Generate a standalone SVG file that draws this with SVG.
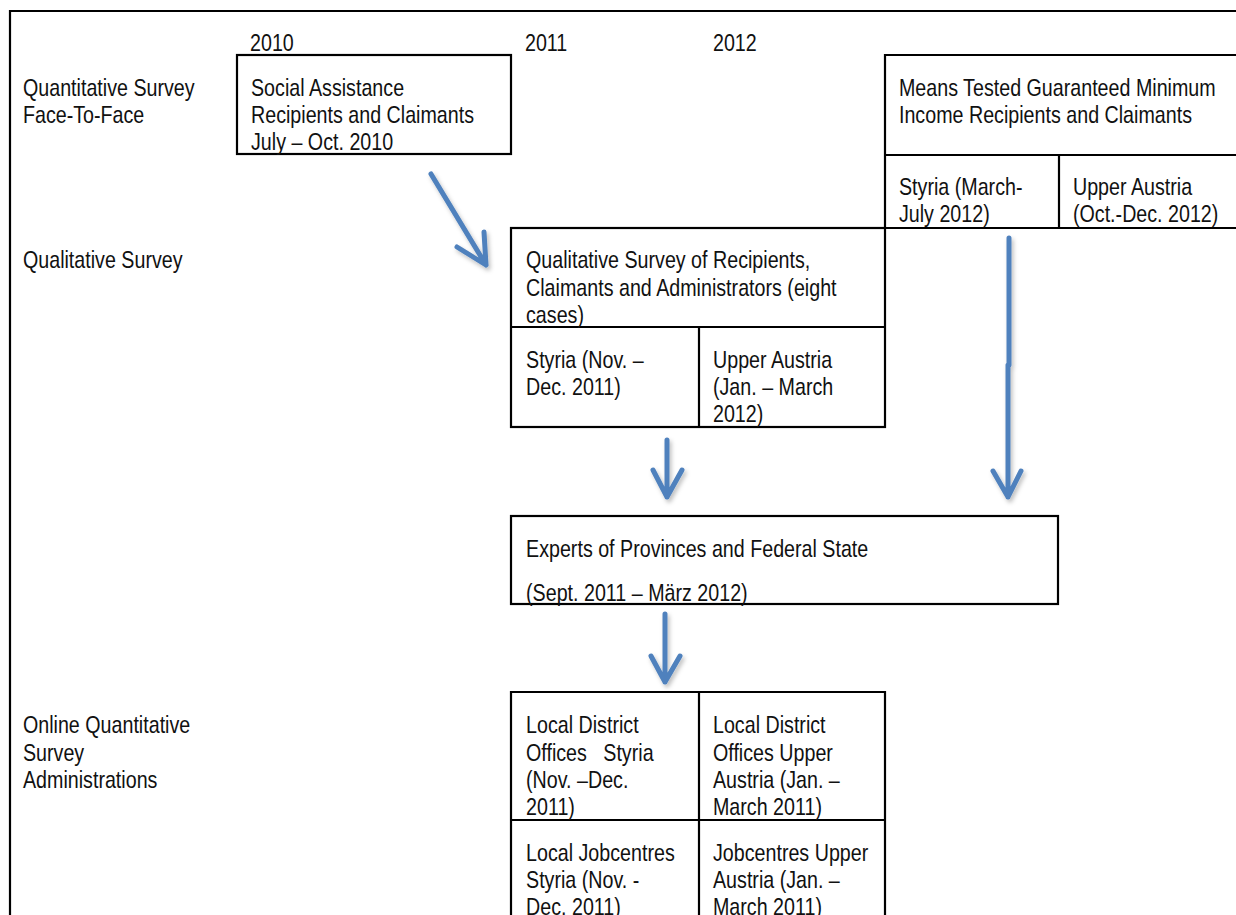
<svg xmlns="http://www.w3.org/2000/svg" width="1236" height="915" viewBox="0 0 1236 915">
<defs>
<style>
.t{font-family:"Liberation Sans",Arial,sans-serif;font-size:24px;fill:#111;white-space:pre}
.b{fill:none;stroke:#000;stroke-width:2.2}
.a{fill:none;stroke:#4F81BD;stroke-width:5;stroke-linecap:round;stroke-linejoin:round}
</style>
<filter id="sh" x="-50%" y="-20%" width="200%" height="140%">
<feDropShadow dx="2" dy="3" stdDeviation="2" flood-color="#000" flood-opacity="0.25"/>
</filter>
</defs>
<rect width="1236" height="915" fill="#fff"/>
<g id="frame">
<path class="b" d="M10,915 V11 H1236"/>
</g>
<g id="years">
<g transform="scale(0.82 1)">
<text class="t" x="304.9" y="51">2010</text>
<text class="t" x="640.2" y="51">2011</text>
<text class="t" x="869.5" y="51">2012</text>
</g>
</g>
<g id="row-labels">
<g transform="scale(0.82 1)">
<text class="t" x="28" y="96">Quantitative Survey</text>
<text class="t" x="28" y="123">Face-To-Face</text>
<text class="t" x="28" y="268">Qualitative Survey</text>
<text class="t" x="28" y="733">Online Quantitative</text>
<text class="t" x="28" y="761">Survey</text>
<text class="t" x="28" y="788">Administrations</text>
</g>
</g>
<g id="node-social-assistance">
<rect class="b" x="237" y="55" width="274" height="99"/>
<g transform="scale(0.82 1)">
<text class="t" x="306.1" y="96">Social Assistance</text>
<text class="t" x="306.1" y="123">Recipients and Claimants</text>
<text class="t" x="306.1" y="150">July – Oct. 2010</text>
</g>
</g>
<g id="node-means-tested">
<path class="b" d="M1236,55 H885 V228 H1236 M885,155 H1236 M1059,155 V228"/>
<g transform="scale(0.82 1)">
<text class="t" x="1096.3" y="96">Means Tested Guaranteed Minimum</text>
<text class="t" x="1096.3" y="123">Income Recipients and Claimants</text>
<text class="t" x="1096.3" y="195">Styria (March-</text>
<text class="t" x="1096.3" y="222">July 2012)</text>
<text class="t" x="1308.5" y="195">Upper Austria</text>
<text class="t" x="1308.5" y="222">(Oct.-Dec. 2012)</text>
</g>
</g>
<g id="node-qualitative">
<rect class="b" x="511" y="228" width="374" height="199"/>
<path class="b" d="M511,327 H885 M699,327 V427"/>
<g transform="scale(0.82 1)">
<text class="t" x="641.5" y="268">Qualitative Survey of Recipients,</text>
<text class="t" x="641.5" y="296">Claimants and Administrators (eight</text>
<text class="t" x="641.5" y="323">cases)</text>
<text class="t" x="641.5" y="368">Styria (Nov. –</text>
<text class="t" x="641.5" y="395">Dec. 2011)</text>
<text class="t" x="869.5" y="368">Upper Austria</text>
<text class="t" x="869.5" y="395">(Jan. – March</text>
<text class="t" x="869.5" y="422">2012)</text>
</g>
</g>
<g id="node-experts">
<rect class="b" x="511" y="516" width="547" height="88"/>
<g transform="scale(0.82 1)">
<text class="t" x="641.5" y="557">Experts of Provinces and Federal State</text>
<text class="t" x="641.5" y="601">(Sept. 2011 – März 2012)</text>
</g>
</g>
<g id="node-online">
<path class="b" d="M511,916 V692 H885 V916 M699,692 V916 M511,820 H885"/>
<g transform="scale(0.82 1)">
<text class="t" x="641.5" y="733">Local District</text>
<text class="t" x="641.5" y="761">Offices   Styria</text>
<text class="t" x="641.5" y="788">(Nov. –Dec.</text>
<text class="t" x="641.5" y="815">2011)</text>
<text class="t" x="869.5" y="733">Local District</text>
<text class="t" x="869.5" y="761">Offices Upper</text>
<text class="t" x="869.5" y="788">Austria (Jan. –</text>
<text class="t" x="869.5" y="815">March 2011)</text>
<text class="t" x="641.5" y="861">Local Jobcentres</text>
<text class="t" x="641.5" y="888">Styria (Nov. -</text>
<text class="t" x="641.5" y="915">Dec. 2011)</text>
<text class="t" x="869.5" y="861">Jobcentres Upper</text>
<text class="t" x="869.5" y="888">Austria (Jan. –</text>
<text class="t" x="869.5" y="915">March 2011)</text>
</g>
</g>
<g id="connectors" filter="url(#sh)">
<path class="a" d="M431,174 L486,265 M457,247 L486,265 L484,232"/>
<path class="a" d="M667,440 V497 M653,470 L667,497 L682,470"/>
<path class="a" d="M1009,238 V365 M1008,365 V497 M993,471 L1008,497 L1021,471"/>
<path class="a" d="M665,614 V682 M651,656 L665,682 L680,656"/>
</g>
</svg>
